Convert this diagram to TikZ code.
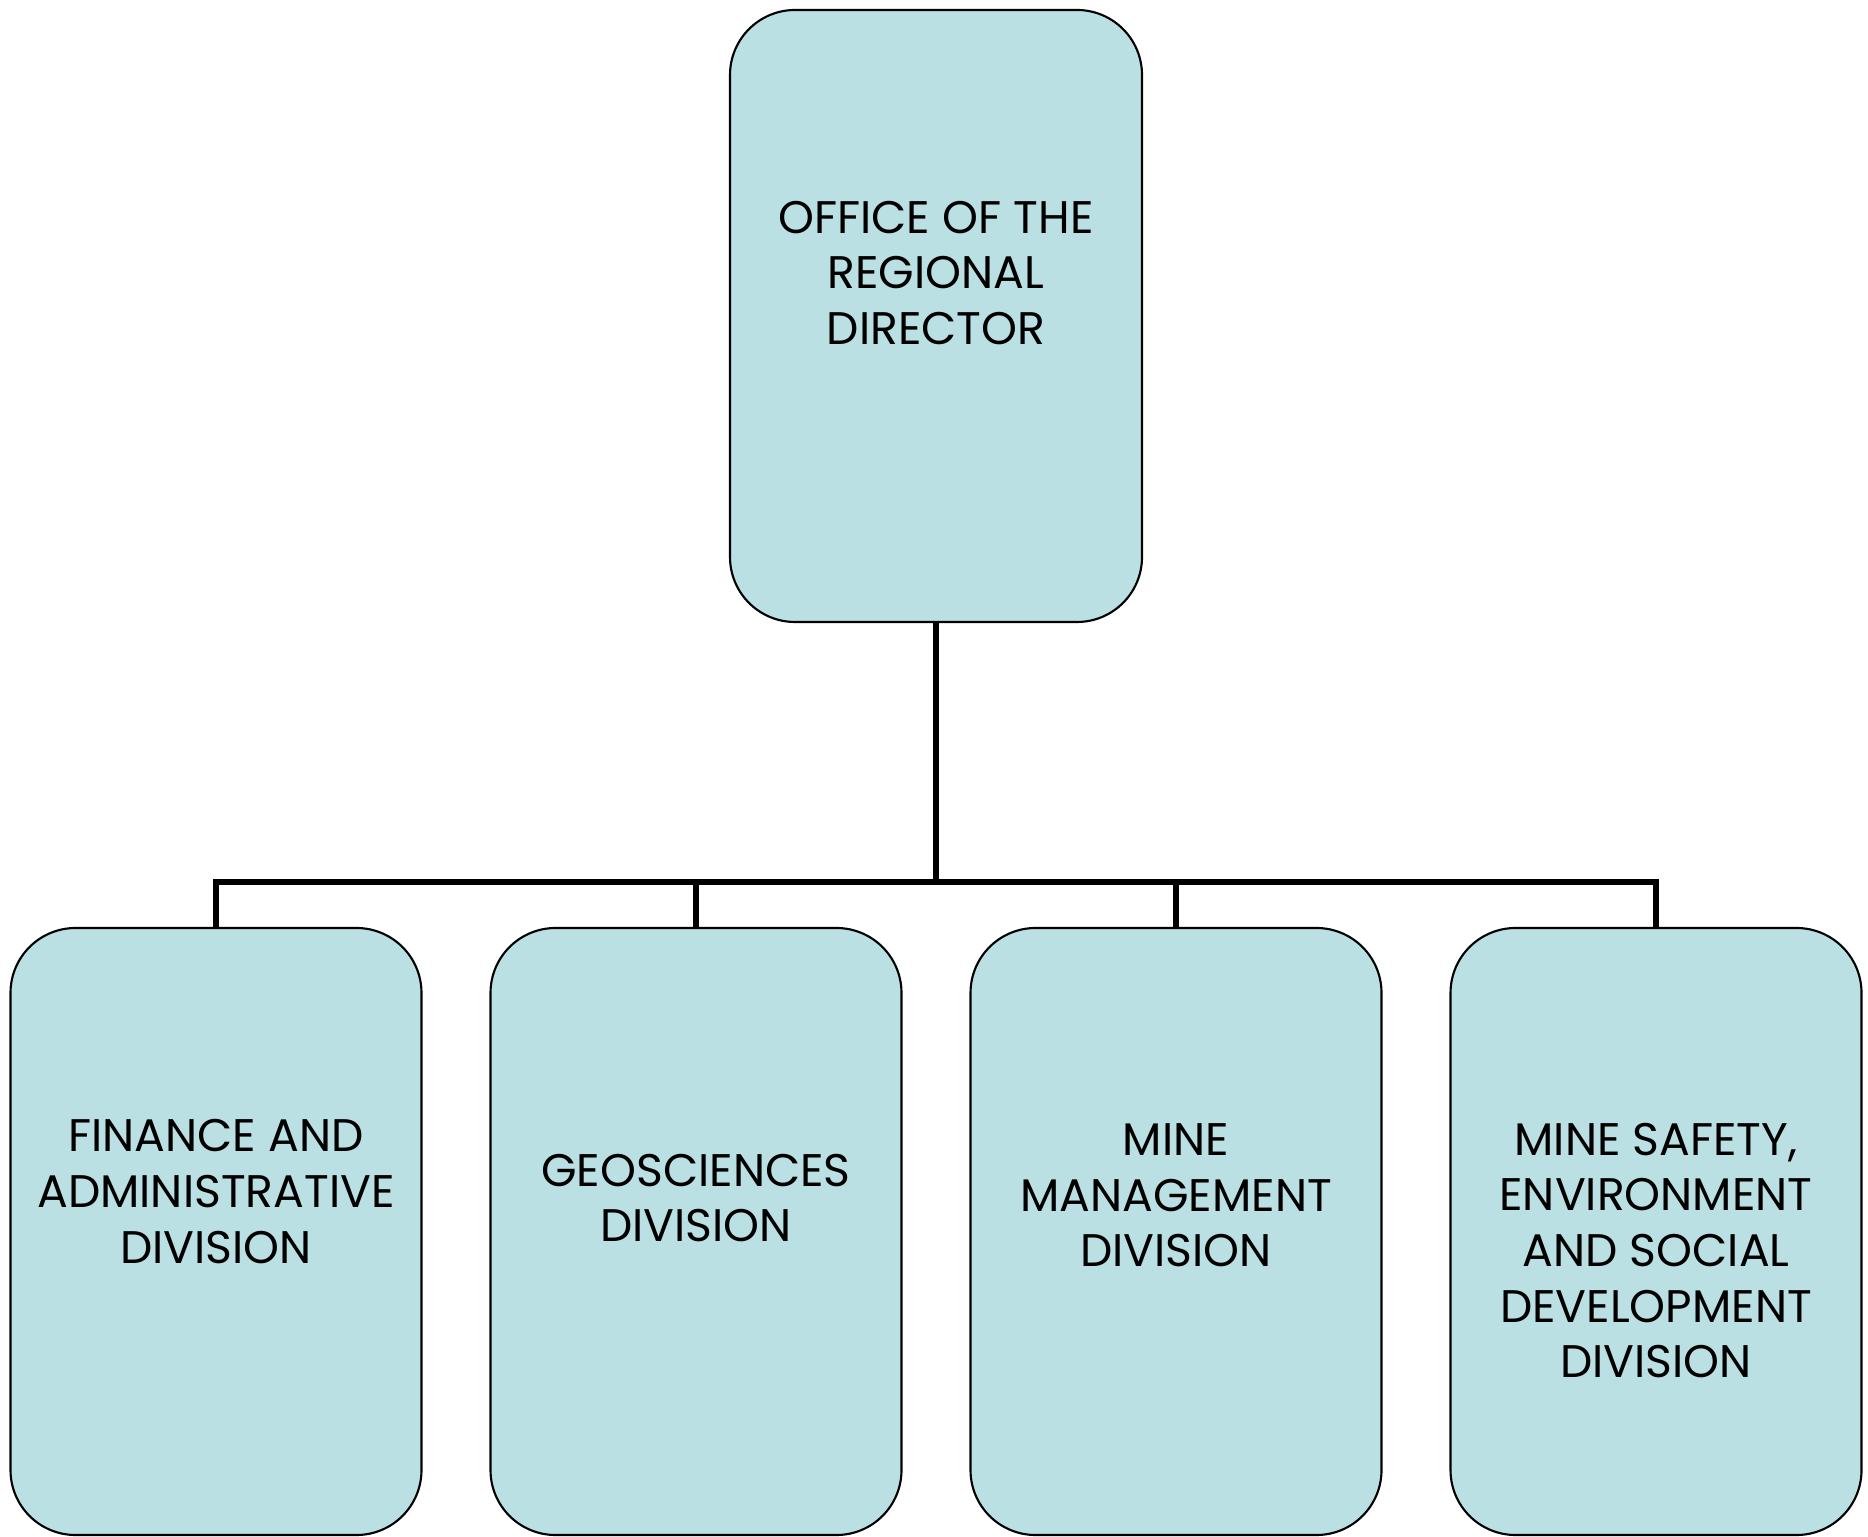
\documentclass[tikz,border=0pt]{standalone}
\usepackage{fontspec}
\setmainfont{Poppins}
\definecolor{unitfill}{RGB}{186,224,227}
\tikzset{
  unit/.style={draw,line width=0.6pt,fill=unitfill,rounded corners=0.65cm,
    minimum width=4.11cm,minimum height=6.07cm,inner sep=0pt},
  unittext/.style={align=center,font=\fontsize{13}{15.8}\selectfont}
}
\begin{document}
\begin{tikzpicture}[level distance=9.155cm,sibling distance=4.8cm,
    edge from parent/.style={draw,line width=1.6pt},
    edge from parent path={(\tikzparentnode.south) -- ++(0,-2.59) -| (\tikzchildnode.north)}]
  \useasboundingbox (0,0) rectangle (18.68,-15.37);
  \node[unit,minimum width=4.12cm,minimum height=6.12cm,
    label={[unittext,yshift=0.43cm]center:OFFICE OF THE\\REGIONAL\\DIRECTOR}] (director) at (9.36,-3.16) {}
    child {node[unit,label={[unittext,yshift=0.40cm]center:FINANCE AND\\ADMINISTRATIVE\\DIVISION}] (finance) {}}
    child {node[unit,label={[unittext,yshift=0.335cm]center:GEOSCIENCES\\DIVISION}] (geo) {}}
    child {node[unit,label={[unittext,yshift=0.36cm]center:MINE\\MANAGEMENT\\DIVISION}] (minemgmt) {}}
    child {node[unit,label={[unittext,yshift=-0.19cm]center:{MINE SAFETY,\\ENVIRONMENT\\AND SOCIAL\\DEVELOPMENT\\DIVISION}}] (minesafety) {}};
\end{tikzpicture}
\end{document}
